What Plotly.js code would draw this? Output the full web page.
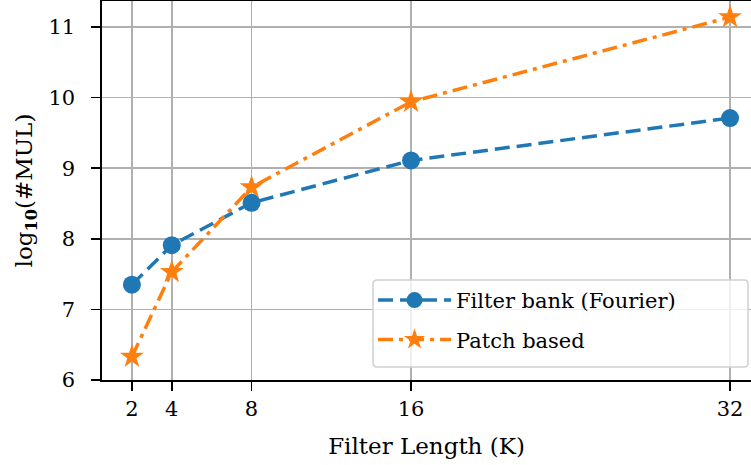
<!DOCTYPE html>
<html>
<head>
<meta charset="utf-8">
<script src="https://cdn.plot.ly/plotly-3.0.1.min.js"></script>
<style>html,body{margin:0;padding:0;background:#fff;}#chart{width:751px;height:465px;}</style>
</head>
<body>
<div id="chart"></div>
<script>
const filterLengths = [2, 4, 8, 16, 32];
const filterBank = [7.35, 7.91, 8.51, 9.11, 9.71];
const patchBased = [6.33, 7.53, 8.73, 9.94, 11.14];
const xTicks = [2, 4, 8, 16, 32];
const yTicks = [6, 7, 8, 9, 10, 11];
const seriesNames = ["Filter bank (Fourier)", "Patch based"];

const FONT = "'DejaVu Serif', 'Liberation Serif', serif";

const traces = [
  {
    x: filterLengths, y: filterBank, name: seriesNames[0], type: "scatter", mode: "lines+markers",
    legendgroup: "a",
    line: {color: "#1f77b4", width: 3.5, dash: "15px,7px"},
    marker: {color: "#1f77b4", size: 18, symbol: "circle"}
  },
  {
    x: filterLengths, y: patchBased, name: seriesNames[1], type: "scatter", mode: "lines+markers",
    legendgroup: "b",
    line: {color: "#ff7f0e", width: 3.5, dash: "15px,6px,4px,6px"},
    marker: {color: "#ff7f0e", size: 18, symbol: "star"}
  }
];

// legend frame (rounded box) in paper coordinates
const lx0 = 0.4176, lx1 = 0.9954, ly0 = 0.0343, ly1 = 0.2639, rdx = 0.0062, rdy = 0.0106;
const legendFrame =
  `M${lx0 + rdx},${ly1} L${lx1 - rdx},${ly1} Q${lx1},${ly1} ${lx1},${ly1 - rdy} ` +
  `L${lx1},${ly0 + rdy} Q${lx1},${ly0} ${lx1 - rdx},${ly0} ` +
  `L${lx0 + rdx},${ly0} Q${lx0},${ly0} ${lx0},${ly0 + rdy} ` +
  `L${lx0},${ly1 - rdy} Q${lx0},${ly1} ${lx0 + rdx},${ly1} Z`;

const layout = {
  width: 751, height: 465,
  margin: {l: 102, r: 0, t: 1, b: 85},
  paper_bgcolor: "#fff", plot_bgcolor: "#fff",
  font: {family: FONT, size: 21, color: "#000"},
  showlegend: true,
  xaxis: {
    range: [0.5, 33.05], tickvals: xTicks, ticktext: xTicks.map(String),
    showgrid: true, gridcolor: "#b0b0b0", gridwidth: 1.6,
    showline: true, linecolor: "#000", linewidth: 1.6, mirror: true,
    ticks: "outside", ticklen: 9, tickwidth: 1.6, tickcolor: "#000",
    tickfont: {family: FONT, size: 21},
    zeroline: false,
    title: {text: "Filter Length (K)", font: {family: FONT, size: 23}, standoff: 18}
  },
  yaxis: {
    range: [6, 11.368], tickvals: yTicks, ticktext: yTicks.map(String),
    showgrid: true, gridcolor: "#b0b0b0", gridwidth: 1.6,
    showline: true, linecolor: "#000", linewidth: 1.6, mirror: false,
    ticks: "outside", ticklen: 9, tickwidth: 1.6, tickcolor: "#000",
    tickfont: {family: FONT, size: 21},
    ticklabelstandoff: 12,
    zeroline: false,
    title: {text: "log<sub><b>10</b></sub>(#MUL)", font: {family: FONT, size: 23}, standoff: 9}
  },
  shapes: [{
    type: "path", xref: "paper", yref: "paper", layer: "above",
    path: legendFrame,
    fillcolor: "rgba(255,255,255,0.8)",
    line: {color: "#d0d0d0", width: 1.5}
  }],
  legend: {
    x: 0.4176, y: 0.264, xanchor: "left", yanchor: "top",
    bgcolor: "rgba(0,0,0,0)", borderwidth: 0,
    font: {family: FONT, size: 21},
    traceorder: "grouped", tracegroupgap: 9, itemwidth: 73
  }
};

Plotly.newPlot("chart", traces, layout, {displayModeBar: false, staticPlot: true});
</script>
</body>
</html>
